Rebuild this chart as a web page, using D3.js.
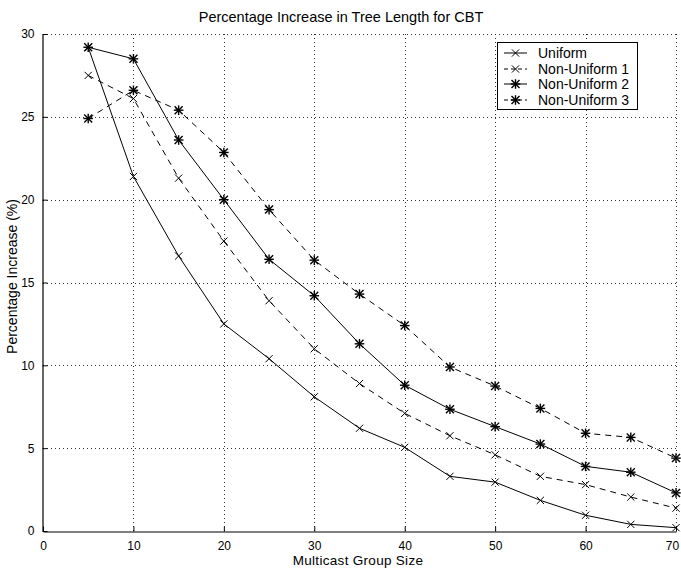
<!DOCTYPE html>
<html>
<head>
<meta charset="utf-8">
<script src="https://cdn.jsdelivr.net/npm/d3@7"></script>
<style>
  html, body { margin: 0; padding: 0; background: #fff; }
  svg { display: block; }
  text { font-family: "Liberation Sans", Arial, Helvetica, sans-serif; fill: #000; }
</style>
</head>
<body>
<div id="chart"></div>
<script>
// ---- data ----
const groupSizes = [5, 10, 15, 20, 25, 30, 35, 40, 45, 50, 55, 60, 65, 70];
const uniform     = [29.2, 21.4, 16.6, 12.5, 10.4, 8.1, 6.2, 5.05, 3.3, 2.95, 1.85, 0.95, 0.4, 0.2];
const nonUniform1 = [27.5, 26.1, 21.3, 17.5, 13.9, 11.0, 8.9, 7.1, 5.75, 4.6, 3.3, 2.8, 2.05, 1.38];
const nonUniform2 = [29.2, 28.5, 23.6, 20.0, 16.4, 14.2, 11.3, 8.8, 7.35, 6.3, 5.25, 3.9, 3.55, 2.3];
const nonUniform3 = [24.9, 26.6, 25.4, 22.85, 19.4, 16.35, 14.3, 12.4, 9.9, 8.75, 7.4, 5.9, 5.65, 4.4];
const seriesNames = ["Uniform", "Non-Uniform 1", "Non-Uniform 2", "Non-Uniform 3"];
const xTicks = [0, 10, 20, 30, 40, 50, 60, 70];
const yTicks = [0, 5, 10, 15, 20, 25, 30];
const titleText = "Percentage Increase in Tree Length for CBT";
const xLabel = "Multicast Group Size";
const yLabel = "Percentage Increase (%)";

const series = [
  { name: seriesNames[0], values: uniform,     dash: null,  marker: "x" },
  { name: seriesNames[1], values: nonUniform1, dash: "6,5", marker: "x" },
  { name: seriesNames[2], values: nonUniform2, dash: null,  marker: "star" },
  { name: seriesNames[3], values: nonUniform3, dash: "6,5", marker: "star" }
];

// ---- layout ----
const W = 681, H = 568;
const L = 43, R = 676, T = 34, B = 531;

const svg = d3.select("#chart").append("svg").attr("width", W).attr("height", H);

const x = d3.scaleLinear().domain([0, 70]).range([L, R]);
const y = d3.scaleLinear().domain([0, 30]).range([B, T]);

// grid
const grid = svg.append("g").attr("stroke", "#333").attr("stroke-width", 1)
  .attr("stroke-dasharray", "1,3").attr("shape-rendering", "crispEdges");
xTicks.forEach(v => {
  if (v === 0) return;
  grid.append("line").attr("x1", Math.round(x(v)) + 0.5).attr("x2", Math.round(x(v)) + 0.5)
    .attr("y1", B).attr("y2", T);
});
yTicks.forEach(v => {
  if (v === 0) return;
  grid.append("line").attr("y1", Math.round(y(v)) + 0.5).attr("y2", Math.round(y(v)) + 0.5)
    .attr("x1", L).attr("x2", R);
});

// axes
const xAxis = d3.axisBottom(x).tickValues(xTicks).tickSizeInner(-5).tickSizeOuter(0).tickPadding(10);
const yAxis = d3.axisLeft(y).tickValues(yTicks).tickSizeInner(-5).tickSizeOuter(0).tickPadding(8);

const gx = svg.append("g").attr("transform", `translate(0,${B + 0.5})`).call(xAxis);
const gy = svg.append("g").attr("transform", `translate(${L - 0.5},0)`).call(yAxis);
[gx, gy].forEach(g => {
  g.select(".domain").attr("stroke", "#000").attr("stroke-width", 1.2);
  g.selectAll(".tick line").attr("stroke", "#000");
  g.selectAll(".tick text").attr("font-size", 12)
    .attr("font-family", '"Liberation Sans", Arial, sans-serif').attr("fill", "#000");
});
// last x tick label squeezed inside the window, as in the reference
gx.selectAll(".tick text").filter(d => d === 70).attr("dx", -4);

// markers
function drawMarker(g, type, cx, cy) {
  const s = type === "star" ? 4 : 3.6;
  const m = g.append("g").attr("transform", `translate(${cx},${cy})`)
    .attr("stroke", "#000").attr("fill", "none")
    .attr("stroke-width", type === "star" ? 1.4 : 1);
  m.append("line").attr("x1", -s).attr("y1", -s).attr("x2", s).attr("y2", s);
  m.append("line").attr("x1", -s).attr("y1", s).attr("x2", s).attr("y2", -s);
  if (type === "star") {
    const p = s * 1.2;
    m.append("line").attr("x1", -p).attr("y1", 0).attr("x2", p).attr("y2", 0);
    m.append("line").attr("x1", 0).attr("y1", -p).attr("x2", 0).attr("y2", p);
  }
}

const line = d3.line().x((d, i) => x(groupSizes[i])).y(d => y(d));

const plot = svg.append("g");
series.forEach(s => {
  plot.append("path").datum(s.values).attr("d", line)
    .attr("fill", "none").attr("stroke", "#000").attr("stroke-width", 1)
    .attr("stroke-dasharray", s.dash);
  s.values.forEach((v, i) => drawMarker(plot, s.marker, x(groupSizes[i]), y(v)));
});

// title & labels
svg.append("text").attr("x", 341).attr("y", 22).attr("text-anchor", "middle")
  .attr("font-size", 14.5).text(titleText);
svg.append("text").attr("x", 358).attr("y", 565).attr("text-anchor", "middle")
  .attr("font-size", 13.5).attr("letter-spacing", 0.3).text(xLabel);
svg.append("text").attr("transform", `translate(17,${(T + B) / 2 - 6}) rotate(-90)`)
  .attr("text-anchor", "middle").attr("font-size", 14).text(yLabel);

// legend
const lg = svg.append("g");
lg.append("rect").attr("x", 497.5).attr("y", 42.5).attr("width", 140).attr("height", 67)
  .attr("fill", "#fff").attr("stroke", "#000").attr("stroke-width", 1);
const rowY = [53, 69, 84, 100];
series.forEach((s, i) => {
  lg.append("line").attr("x1", 504).attr("x2", 527).attr("y1", rowY[i]).attr("y2", rowY[i])
    .attr("stroke", "#000").attr("stroke-width", 1)
    .attr("stroke-dasharray", s.dash ? "4,3" : null);
  drawMarker(lg, s.marker, 515.5, rowY[i]);
  lg.append("text").attr("x", 538).attr("y", rowY[i] + 5).attr("font-size", 14).text(s.name);
});
</script>
</body>
</html>
